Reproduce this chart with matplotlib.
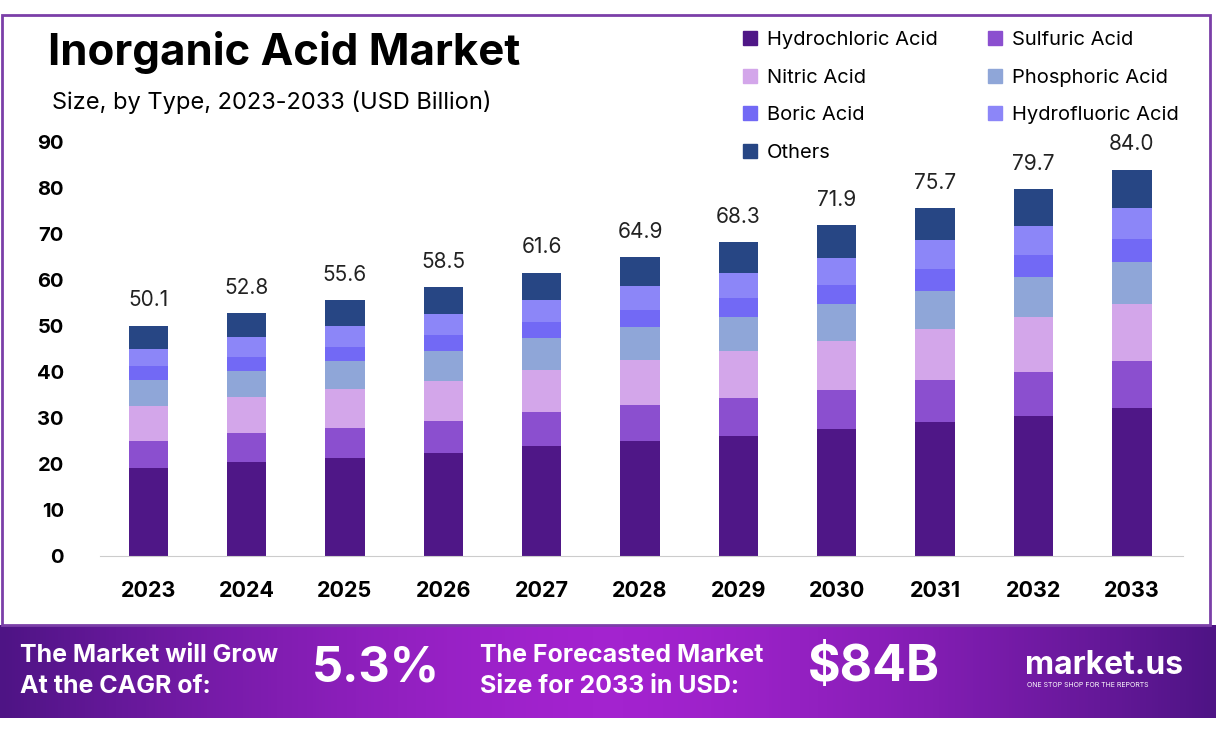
import numpy as np
import matplotlib
matplotlib.use('Agg')
import matplotlib.pyplot as plt
from matplotlib.patches import Rectangle, Patch
from matplotlib.colors import LinearSegmentedColormap

plt.rcParams['font.family'] = ['Inter', 'DejaVu Sans']

years = ['2023', '2024', '2025', '2026', '2027', '2028', '2029', '2030', '2031', '2032', '2033']
totals = [50.1, 52.8, 55.6, 58.5, 61.6, 64.9, 68.3, 71.9, 75.7, 79.7, 84.0]

# segment values, bottom to top
hydrochloric = [19.2, 20.4, 21.2, 22.4, 24.0, 25.1, 26.1, 27.6, 29.1, 30.4, 32.1]
sulfuric     = [5.8, 6.3, 6.7, 6.9, 7.2, 7.8, 8.3, 8.5, 9.1, 9.6, 10.3]
nitric       = [7.6, 7.8, 8.3, 8.8, 9.3, 9.6, 10.2, 10.6, 11.2, 12.0, 12.3]
phosphoric   = [5.6, 5.7, 6.2, 6.5, 6.8, 7.2, 7.4, 8.0, 8.3, 8.7, 9.2]
boric        = [3.0, 3.1, 3.1, 3.5, 3.5, 3.8, 4.1, 4.3, 4.7, 4.8, 5.1]
hydrofluoric = [3.9, 4.3, 4.4, 4.6, 4.9, 5.2, 5.5, 5.8, 6.2, 6.2, 6.7]
others       = [5.0, 5.2, 5.7, 5.8, 5.9, 6.2, 6.7, 7.1, 7.1, 8.0, 8.3]

series = [
    ('Hydrochloric Acid', hydrochloric, '#4f1787'),
    ('Sulfuric Acid', sulfuric, '#8b4fcf'),
    ('Nitric Acid', nitric, '#d3a6ea'),
    ('Phosphoric Acid', phosphoric, '#8fa6d8'),
    ('Boric Acid', boric, '#7269f5'),
    ('Hydrofluoric Acid', hydrofluoric, '#8c86f8'),
    ('Others', others, '#274684'),
]

fig = plt.figure(figsize=(12.16, 7.33), dpi=100)
W, H = 1216, 733

def fx(px):
    return px / W

def fy(py):
    return 1 - py / H

# frame
fig.patches.append(Rectangle((fx(2), fy(625)), fx(1208), fy(15) - fy(625), transform=fig.transFigure,
                             fill=False, edgecolor='#7b3fa8', linewidth=2))

# banner with gradient
bax = fig.add_axes([0, fy(718), 1, fy(625) - fy(718)])
g = np.linspace(-1, 1, 400)
grad = 1 - np.abs(g) ** 1.5
cmap = LinearSegmentedColormap.from_list('ban', ['#4e1485', '#a323cf'])
bax.imshow(grad[np.newaxis, :], aspect='auto', cmap=cmap, extent=[0, 1, 0, 1])
bax.set_axis_off()

ax = fig.add_axes([fx(100), fy(556), fx(1183) - fx(100), fy(142) - fy(556)])
x = np.arange(len(years))
bottom = np.zeros(len(years))
handles = {}
for name, vals, col in series:
    ax.bar(x, vals, 0.4, bottom=bottom, color=col, zorder=2)
    bottom += np.array(vals)
    handles[name] = Patch(color=col, label=name)

for xi, top, t in zip(x, bottom, totals):
    ax.text(xi, top + 3.3, f'{t:.1f}', ha='center', va='bottom', fontsize=15, color='#222222', clip_on=False)

ax.set_xlim(-0.49, 10.52)
ax.set_ylim(0, 90)
ax.set_yticks(range(0, 91, 10))
ax.set_xticks(x)
ax.set_xticklabels(years, fontsize=15.5, fontweight='bold')
ax.tick_params(axis='y', labelsize=14.5, length=0, pad=26)
ax.tick_params(axis='x', length=0, pad=18)
for lab in ax.get_yticklabels():
    lab.set_fontweight('bold')
for s in ['top', 'right', 'left']:
    ax.spines[s].set_visible(False)
ax.spines['bottom'].set_color('#cccccc')

order = ['Hydrochloric Acid', 'Nitric Acid', 'Boric Acid', 'Others',
         'Sulfuric Acid', 'Phosphoric Acid', 'Hydrofluoric Acid']
fig.legend([handles[n] for n in order], order, ncol=2, loc='upper left',
           bbox_to_anchor=(fx(735), fy(23)), frameon=False, fontsize=14.5,
           handlelength=0.7, handleheight=0.7, handletextpad=0.5,
           labelspacing=0.97, columnspacing=2.5, borderaxespad=0)

fig.text(fx(48), fy(52), 'Inorganic Acid Market', fontsize=31.5, fontweight='bold', va='center')
fig.text(fx(52), fy(102), 'Size, by Type, 2023-2033 (USD Billion)', fontsize=17, va='center')

# banner text
fig.text(fx(20), fy(671), 'The Market will Grow\nAt the CAGR of:', color='white', fontsize=18,
         fontweight='bold', va='center', linespacing=1.4)
fig.text(fx(312), fy(668), '5.3%', color='white', fontsize=35, fontweight='bold', va='center')
fig.text(fx(480), fy(671), 'The Forecasted Market\nSize for 2033 in USD:', color='white', fontsize=18,
         fontweight='bold', va='center', linespacing=1.4)
fig.text(fx(808), fy(668), '$84B', color='white', fontsize=36, fontweight='bold', va='center')
fig.text(fx(1025), fy(665), 'market.us', color='white', fontsize=23, fontweight='bold', va='center')
fig.text(fx(1027), fy(685), 'ONE STOP SHOP FOR THE REPORTS', color='white', fontsize=5, va='center')

fig.savefig('out.png', dpi=100)
